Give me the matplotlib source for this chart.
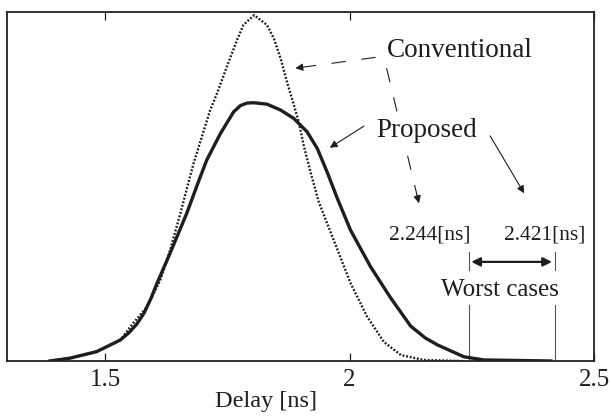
import matplotlib
matplotlib.use("Agg")
import matplotlib.pyplot as plt

# ---- data ----
prop_x = [1.387, 1.428, 1.483, 1.531, 1.548, 1.565, 1.580, 1.594, 1.606, 1.633,
          1.667, 1.691, 1.708, 1.736, 1.763, 1.777, 1.790, 1.804, 1.831, 1.859,
          1.886, 1.913, 1.934, 1.954, 1.975, 2.002, 2.043, 2.084, 2.125, 2.155,
          2.180, 2.234, 2.275, 2.412]
prop_y = [0.000, 0.008, 0.027, 0.060, 0.080, 0.106, 0.138, 0.180, 0.222, 0.309,
          0.423, 0.514, 0.576, 0.652, 0.714, 0.732, 0.739, 0.740, 0.736, 0.719,
          0.695, 0.657, 0.609, 0.542, 0.466, 0.375, 0.270, 0.181, 0.100, 0.066,
          0.046, 0.012, 0.003, 0.000]

conv_x = [1.387, 1.428, 1.483, 1.531, 1.558, 1.586, 1.613, 1.633, 1.654, 1.671,
          1.681, 1.698, 1.715, 1.729, 1.749, 1.770, 1.783, 1.805, 1.831, 1.845,
          1.859, 1.872, 1.886, 1.896, 1.906, 1.920, 1.937, 1.968, 2.002, 2.036,
          2.070, 2.105, 2.152, 2.230]
conv_y = [0.000, 0.008, 0.027, 0.060, 0.109, 0.156, 0.232, 0.318, 0.423, 0.514,
          0.566, 0.643, 0.719, 0.767, 0.843, 0.920, 0.963, 0.991, 0.963, 0.925,
          0.867, 0.800, 0.734, 0.686, 0.619, 0.542, 0.456, 0.345, 0.223, 0.127,
          0.055, 0.017, 0.003, 0.000]

worst_conv = 2.244
worst_prop = 2.421
xticks = [1.5, 2, 2.5]
xtick_labels = ["1.5", "2", "2.5"]
xlabel = "Delay [ns]"
label_conv = "Conventional"
label_prop = "Proposed"
label_worst = "Worst cases"

plt.rcParams['font.family'] = ['Liberation Serif', 'DejaVu Serif']

fig = plt.figure(figsize=(6.11, 4.16), dpi=100)
ax = fig.add_axes([7.3/611, 55/416, 586.7/611, 349/416])

ink = '#1e1e1e'
ax.plot(conv_x, conv_y, color=ink, lw=1.7, linestyle=(0, (0.8, 0.75)),
        dash_capstyle='butt', zorder=3)
ax.plot(prop_x, prop_y, color=ink, lw=2.4, solid_joinstyle='round', zorder=4)

ax.set_xlim(1.3, 2.5)
ax.set_ylim(0, 1)
ax.set_xticks(xticks)
ax.set_xticklabels(xtick_labels)
ax.set_yticks([])
ax.tick_params(axis='x', direction='in', length=5.5, width=0.9, top=True,
               labelsize=18, pad=5.5, colors=ink)
for s in ax.spines.values():
    s.set_linewidth(1.3)
    s.set_color('#222222')

ax.set_xlabel(xlabel, fontsize=17.5, color=ink)
ax.xaxis.set_label_coords(0.441, -0.086)

# texts
wb = dict(facecolor='white', edgecolor='none', pad=0.5)
ax.text(2.2264, 0.870, label_conv, fontsize=19.5, ha='center', va='baseline',
        color=ink, bbox=wb, zorder=6)
ax.text(2.1578, 0.642, label_prop, fontsize=19.5, ha='center', va='baseline',
        color=ink, bbox=wb, zorder=6)
ax.text(2.1637, 0.347, f"{worst_conv:.3f}[ns]", fontsize=15.5, ha='center',
        va='baseline', color=ink)
ax.text(2.3990, 0.347, f"{worst_prop:.3f}[ns]", fontsize=15.5, ha='center',
        va='baseline', color=ink)
ax.text(2.3072, 0.186, label_worst, fontsize=18, ha='center', va='baseline', color=ink)

# worst-case markers
for xv in (worst_conv, worst_prop):
    ax.plot([xv, xv], [0.261, 0.313], color='#555555', lw=0.8)
    ax.plot([xv, xv], [0.0, 0.160], color='#555555', lw=0.8)
ax.annotate('', xy=(worst_conv + 0.005, 0.284), xytext=(worst_prop - 0.007, 0.284),
            arrowprops=dict(arrowstyle='<|-|>', lw=1.6, color=ink,
                            mutation_scale=13, shrinkA=0, shrinkB=0))


def dashed_arrow(x0, y0, x1, y1):
    ax.plot([x0, x1], [y0, y1], color=ink, lw=0.8, linestyle=(0, (13, 14)))
    f = 0.06
    xs = x1 - (x1 - x0) * f
    ys = y1 - (y1 - y0) * f
    ax.annotate('', xy=(x1, y1), xytext=(xs, ys),
                arrowprops=dict(arrowstyle='-|>', lw=0.8, color=ink,
                                mutation_scale=11, shrinkA=0, shrinkB=0))


def solid_arrow(x0, y0, x1, y1):
    ax.annotate('', xy=(x1, y1), xytext=(x0, y0),
                arrowprops=dict(arrowstyle='-|>', lw=0.8, color=ink,
                                mutation_scale=11, shrinkA=0, shrinkB=0))


dashed_arrow(2.0533, 0.870, 1.8893, 0.839)
dashed_arrow(2.0758, 0.839, 2.1420, 0.452)
solid_arrow(2.0293, 0.673, 1.9596, 0.611)
solid_arrow(2.2875, 0.645, 2.3572, 0.4805)

fig.savefig("out.png", dpi=100)
